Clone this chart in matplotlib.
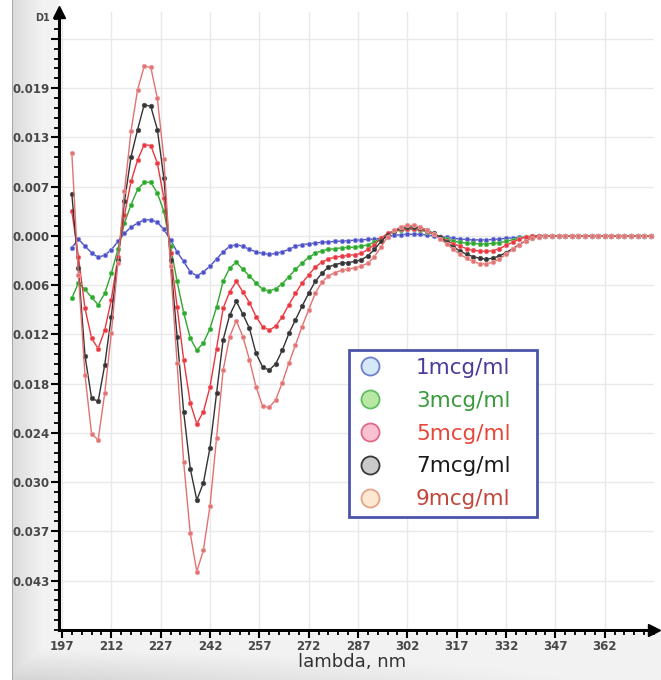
import numpy as np
import matplotlib
matplotlib.use("Agg")
import matplotlib.pyplot as plt
from matplotlib.lines import Line2D
from matplotlib.ticker import FixedLocator, AutoMinorLocator

# ---------------- data (first-derivative spectra, D1) ----------------
wavelength = np.arange(200, 377, 2)  # nm

series_labels = ["1mcg/ml", "3mcg/ml", "5mcg/ml", "7mcg/ml", "9mcg/ml"]

# values in units of 1e-3 (D1)
d1_1 = [-1.1, 0.0, -0.9, -1.7, -2.3, -2.0, -1.35, -0.3, 0.7, 1.5,
        2.0, 2.4, 2.4, 2.1, 1.2, -0.1, -1.6, -2.8, -4.1, -4.6,
        -4.1, -3.4, -2.5, -1.6, -0.9, -0.7, -0.9, -1.3, -1.6, -1.8,
        -1.9, -1.8, -1.6, -1.3, -0.9, -0.7, -0.6, -0.5, -0.4, -0.35,
        -0.3, -0.25, -0.2, -0.15, -0.1, -0.05, 0.0, 0.1, 0.3, 0.45,
        0.55, 0.6, 0.6, 0.6, 0.5, 0.4, 0.3, 0.2, 0.1, 0.0,
        -0.05, -0.1, -0.1, -0.1, -0.05, 0.0, 0.1, 0.15, 0.2, 0.25,
        0.3, 0.35, 0.35, 0.4, 0.4, 0.4, 0.4, 0.4, 0.4, 0.4,
        0.4, 0.4, 0.4, 0.4, 0.4, 0.4, 0.4, 0.4, 0.4]
d1_3 = [-7.4, -5.5, -6.3, -7.3, -8.2, -6.8, -4.3, -1.3, 2.0, 4.3,
        6.2, 7.1, 7.1, 5.75, 3.45, -0.9, -5.3, -9.2, -12.4, -13.9,
        -13.0, -11.2, -8.5, -5.3, -3.6, -2.9, -3.8, -4.6, -5.5, -6.3,
        -6.5, -6.2, -5.6, -4.7, -3.8, -3.0, -2.3, -1.8, -1.45, -1.3,
        -1.2, -1.1, -1.05, -1.0, -0.9, -0.7, -0.4, 0.1, 0.6, 1.0,
        1.1, 1.2, 1.2, 1.1, 0.9, 0.6, 0.3, 0.0, -0.25, -0.4,
        -0.5, -0.55, -0.6, -0.6, -0.55, -0.45, -0.3, -0.1, 0.1, 0.25,
        0.35, 0.4, 0.4, 0.4, 0.4, 0.4, 0.4, 0.4, 0.4, 0.4,
        0.4, 0.4, 0.4, 0.4, 0.4, 0.4, 0.4, 0.4, 0.4]
d1_5 = [3.45, -2.2, -8.65, -12.4, -13.7, -11.4, -7.6, -2.3, 3.0, 7.2,
        9.9, 11.8, 11.7, 9.5, 5.1, -1.8, -8.45, -15.1, -20.5, -23.1,
        -21.6, -18.5, -13.7, -8.65, -6.6, -5.3, -6.6, -7.95, -9.7, -10.95,
        -11.4, -10.9, -9.7, -8.2, -6.8, -5.5, -4.5, -3.5, -2.9, -2.5,
        -2.25, -2.15, -2.05, -1.95, -1.8, -1.3, -0.7, 0.1, 0.7, 1.0,
        1.2, 1.3, 1.3, 1.2, 1.0, 0.6, 0.2, -0.2, -0.6, -0.9,
        -1.2, -1.4, -1.5, -1.55, -1.45, -1.2, -0.8, -0.4, 0.0, 0.25,
        0.35, 0.4, 0.4, 0.4, 0.4, 0.4, 0.4, 0.4, 0.4, 0.4,
        0.4, 0.4, 0.4, 0.4, 0.4, 0.4, 0.4, 0.4, 0.4]
d1_7 = [5.6, -3.6, -14.6, -19.9, -20.3, -15.75, -9.7, -2.6, 4.7, 10.3,
        13.7, 16.8, 16.6, 13.7, 7.6, -2.6, -12.2, -21.6, -28.7, -32.65,
        -30.5, -26.1, -19.3, -12.6, -9.5, -7.8, -9.4, -11.15, -14.3, -16.0,
        -16.4, -15.6, -13.9, -11.8, -10.1, -8.4, -6.8, -5.3, -4.3, -3.5,
        -3.2, -3.0, -2.95, -2.8, -2.6, -2.1, -1.3, -0.3, 0.5, 1.0,
        1.35, 1.5, 1.5, 1.4, 1.1, 0.7, 0.2, -0.4, -1.0, -1.5,
        -1.9, -2.2, -2.4, -2.5, -2.4, -2.1, -1.7, -1.2, -0.7, -0.2,
        0.1, 0.3, 0.4, 0.4, 0.4, 0.4, 0.4, 0.4, 0.4, 0.4,
        0.4, 0.4, 0.4, 0.4, 0.4, 0.4, 0.4, 0.4, 0.4]
d1_9 = [10.75, -4.5, -17.0, -24.4, -25.1, -19.3, -11.8, -3.0, 6.0, 13.5,
        18.7, 21.6, 21.5, 17.6, 10.0, -3.4, -15.5, -27.9, -36.8, -41.6,
        -38.9, -33.4, -24.9, -16.4, -12.2, -10.2, -12.2, -15.1, -18.5, -20.9,
        -21.05, -20.1, -17.95, -15.5, -13.25, -10.95, -8.85, -6.8, -5.4, -4.6,
        -4.2, -3.9, -3.75, -3.6, -3.4, -3.0, -2.2, -1.0, 0.3, 1.1,
        1.5, 1.7, 1.7, 1.5, 1.1, 0.6, 0.0, -0.6, -1.3, -1.9,
        -2.4, -2.8, -3.1, -3.1, -2.9, -2.5, -1.9, -1.3, -0.7, -0.2,
        0.1, 0.3, 0.4, 0.4, 0.4, 0.4, 0.4, 0.4, 0.4, 0.4,
        0.4, 0.4, 0.4, 0.4, 0.4, 0.4, 0.4, 0.4, 0.4]
SCALE = 1e-3

x_tick_values = [197, 212, 227, 242, 257, 272, 287, 302, 317, 332, 347, 362]
y_tick_values = [-0.04272, -0.03656, -0.0304, -0.02424, -0.01808, -0.01192,
                 -0.00576, 0.0004, 0.00656, 0.01272, 0.01888, 0.02504]
y_tick_labels = ["0.043", "0.037", "0.030", "0.024", "0.018", "0.012",
                 "0.006", "0.000", "0.007", "0.013", "0.019", ""]

# ---------------- styling ----------------
line_colors = ["#4a4ec2", "#2fa52f", "#e8363f", "#333333", "#e07272"]
marker_edge = ["#8a8ee6", "#5cc45c", "#f07078", "#555555", "#eea0a0"]
leg_face = ["#d4e8f8", "#b8e8a4", "#f8c2d2", "#cacaca", "#fde9d2"]
leg_edge = ["#6f7fcf", "#5fbf5f", "#e26a88", "#3a3a3a", "#e3a487"]
leg_text = ["#4a3d9a", "#3b9a3b", "#e8463a", "#1a1a1a", "#c2473c"]

W, H = 661, 680
fig = plt.figure(figsize=(W / 100, H / 100), dpi=100)

# background frame with gradient (left strip and bottom band)
img = np.ones((H, W, 3))
xx, yy = np.meshgrid(np.arange(W), np.arange(H))
inside = xx >= 12
left = np.clip((59 - xx) / 47.0, 0, 1) * inside
bot = np.clip((yy - 634) / 46.0, 0, 1) * inside * (1 - 0.8 * xx / W)
shade = np.maximum(left * 0.14, bot * 0.17)
frame_zone = inside & ((xx < 59) | (yy > 632))
shade = np.where(frame_zone, np.maximum(shade, 0.05), shade)
img = img - shade[..., None]
img[:, 12, :] = 0.66
bg = fig.add_axes([0, 0, 1, 1], zorder=0)
bg.imshow(img, aspect="auto", extent=[0, 1, 0, 1], interpolation="bilinear")
bg.axis("off")

ax = fig.add_axes([59 / W, 50 / H, (654 - 59) / W, (630 - 12) / H], zorder=1)
ax.set_facecolor("white")

all_series = [d1_1, d1_3, d1_5, d1_7, d1_9]
for vals, c, me in zip(all_series, line_colors, marker_edge):
    ax.plot(wavelength, np.array(vals) * SCALE, color=c, lw=1.0,
            marker="o", ms=3.2, mfc=c, mec=me, mew=0.6, zorder=3)

ax.set_xlim(196.1, 377)
ax.set_ylim(-0.0489, 0.0284)

ax.xaxis.set_major_locator(FixedLocator(x_tick_values))
ax.xaxis.set_minor_locator(AutoMinorLocator(5))
ax.yaxis.set_major_locator(FixedLocator(y_tick_values))
ax.set_yticklabels(y_tick_labels)
ax.yaxis.set_minor_locator(AutoMinorLocator(5))

ax.grid(True, which="major", color="#e9e9e9", lw=1.0, zorder=0)
ax.set_axisbelow(True)

for s in ["top", "right"]:
    ax.spines[s].set_visible(False)
for s in ["left", "bottom"]:
    ax.spines[s].set_linewidth(2.2)
    ax.spines[s].set_color("black")

ax.tick_params(axis="both", which="major", direction="out", length=5.5, width=1.5,
               colors="black", labelcolor="#484848", labelsize=8.5, pad=1.5)
ax.tick_params(axis="both", which="minor", direction="out", length=3.5, width=1.3,
               colors="black")
for lab in ax.get_xticklabels() + ax.get_yticklabels():
    lab.set_fontweight("bold")

# axis arrows
ax.plot(1, 0, marker=">", ms=9, color="black", transform=ax.transAxes, clip_on=False, zorder=5)
ax.plot(0, 1, marker="^", ms=9, color="black", transform=ax.transAxes, clip_on=False, zorder=5)

fig.text(43 / W, 1 - 18 / H, "D1", fontsize=7, fontweight="bold", color="#484848",
         ha="center", va="center")
fig.text(352 / W, 1 - 662 / H, "lambda, nm", fontsize=13, color="#333333",
         ha="center", va="center")

handles = [Line2D([], [], ls="", marker="o", ms=13, mfc=f, mec=e, mew=1.3)
           for f, e in zip(leg_face, leg_edge)]
leg = ax.legend(handles, series_labels, loc="upper left", mode="expand",
                bbox_to_anchor=((349 - 59) / 595, (630 - 518) / 618, 188 / 595, 168 / 618),
                prop={"size": 15.5}, frameon=True, fancybox=False, borderaxespad=0,
                handlelength=1.2, handletextpad=1.55, labelspacing=0.60,
                borderpad=0.36)
frame = leg.get_frame()
frame.set_edgecolor("#4c54aa")
frame.set_linewidth(2.0)
frame.set_facecolor("white")
frame.set_alpha(1.0)
for t, c in zip(leg.get_texts(), leg_text):
    t.set_color(c)

fig.savefig("out.png", dpi=100)
